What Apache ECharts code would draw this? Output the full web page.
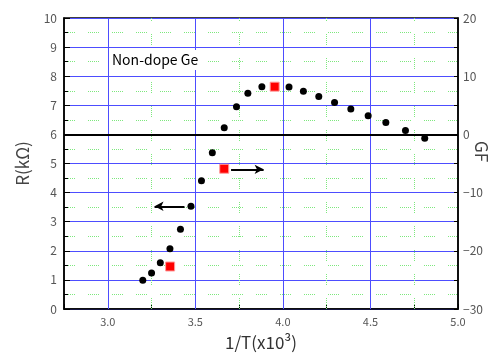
<!DOCTYPE html>
<html><head><meta charset="utf-8">
<script src="https://cdn.jsdelivr.net/npm/echarts@6/dist/echarts.min.js"></script>
<style>html,body{margin:0;padding:0;background:#fff}#c{width:501px;height:355px}</style>
</head><body><div id="c"></div>
<script>
// 1/T (x10^3) and resistance R (kΩ) – black dots
const xDots = [3.20, 3.25, 3.30, 3.355, 3.415, 3.475, 3.535, 3.597, 3.665, 3.735, 3.80, 3.88, 4.035, 4.117, 4.205, 4.295, 4.388, 4.487, 4.588, 4.70, 4.81];
const rDots = [0.99, 1.24, 1.59, 2.07, 2.74, 3.53, 4.41, 5.37, 6.23, 6.95, 7.41, 7.64, 7.63, 7.48, 7.30, 7.10, 6.87, 6.64, 6.41, 6.13, 5.87];
// gauge factor GF – red squares (right axis)
const xSquares = [3.356, 3.665, 3.953];
const gfSquares = [-22.7, -5.9, 8.2];
// grid line positions on the x axis
const xMajorLines = [3.0, 3.5, 4.0, 4.5];
const xMinorLines = [3.25, 3.75, 4.25, 4.75];
// arrows pointing to the axis each series belongs to
const arrowR = [[3.438, 3.53], [3.267, 3.53]];
const arrowGF = [[3.704, -6.0], [3.890, -6.0]];
const zeroGFonR = 6;
const annotation = 'Non-dope Ge';

const FONT = 'Noto Sans CJK JP';
const chart = echarts.init(document.getElementById('c'), null, {renderer: 'canvas'});
const greenDash = [1,1,1,1,1,1,1,1,1,1,1,13];

const option = {
  animation: false,
  textStyle: {fontFamily: FONT},
  grid: {left: 64, right: 43, top: 18, bottom: 46, show: true, borderColor: '#000', borderWidth: 1.5,
    backgroundColor: '#fff', containLabel: false, outerBoundsMode: 'none'},
  xAxis: {
    type: 'value', min: 2.75, max: 5, interval: 0.25,
    name: '1/T(x10³)', nameLocation: 'middle', nameGap: 25,
    nameTextStyle: {fontSize: 17, color: '#333', fontFamily: FONT},
    axisLine: {lineStyle: {color: '#000', width: 1.5}},
    axisTick: {inside: true, length: 5, lineStyle: {color: '#000'}},
    axisLabel: {margin: 7, fontSize: 11, color: '#555', fontFamily: FONT,
      formatter: v => (Math.abs(v * 2 - Math.round(v * 2)) < 1e-6 && v > 2.8) ? v.toFixed(1) : ''},
    splitLine: {show: false}
  },
  yAxis: [{
    type: 'value', min: 0, max: 10, interval: 1, position: 'left',
    name: 'R(kΩ)', nameLocation: 'middle', nameGap: 33, nameRotate: 90,
    nameTextStyle: {fontSize: 17, color: '#444', fontFamily: FONT},
    axisLine: {show: true, lineStyle: {color: '#000', width: 1.5}},
    axisTick: {inside: true, length: 6, lineStyle: {color: '#000'}},
    minorTick: {show: true, splitNumber: 2, length: 4, lineStyle: {color: '#000'}},
    axisLabel: {margin: 7, fontSize: 12, color: '#555', fontFamily: FONT},
    splitLine: {show: true, lineStyle: {color: '#4d4dff', width: 1}},
    minorSplitLine: {show: true, lineStyle: {color: '#7de87d', width: 1, type: greenDash}}
  }, {
    type: 'value', min: -30, max: 20, interval: 10, position: 'right',
    name: 'GF', nameLocation: 'middle', nameGap: 15, nameRotate: -90, nameMoveOverlap: false,
    nameTextStyle: {fontSize: 17, color: '#444', fontFamily: FONT, padding: [0, 24, 0, 0]},
    axisLine: {show: true, lineStyle: {color: '#000', width: 1.5}},
    axisTick: {inside: true, length: 4, lineStyle: {color: '#000'}},
    minorTick: {show: true, splitNumber: 2, length: 4, lineStyle: {color: '#000'}},
    axisLabel: {margin: 5, fontSize: 12, color: '#555', fontFamily: FONT,
      formatter: v => v < 0 ? '\u2212' + Math.abs(v) : String(v)},
    splitLine: {show: false}
  }],
  graphic: [{
    type: 'text', left: 109, top: 50, z: 100,
    style: {text: annotation, fontSize: 14, fontFamily: FONT, fill: '#000',
      backgroundColor: '#fff', padding: [3, 3, 3, 3]}
  }],
  series: [{
    type: 'line', data: [], silent: true, z: 1,
    markLine: {
      silent: true, symbol: ['none', 'none'], label: {show: false}, animation: false,
      data: [
        ...xMinorLines.map(v => ({xAxis: v, lineStyle: {color: '#7de87d', width: 1, type: greenDash}})),
        ...xMajorLines.map(v => ({xAxis: v, lineStyle: {color: '#4d4dff', width: 1, type: 'solid'}})),
        {yAxis: zeroGFonR, lineStyle: {color: '#000', width: 2, type: 'solid'}}
      ]
    }
  }, {
    type: 'scatter', z: 5, yAxisIndex: 0,
    data: xDots.map((x, i) => [x, rDots[i]]),
    symbol: 'circle', symbolSize: 7, itemStyle: {color: '#000', opacity: 1},
    markLine: {
      silent: true, symbol: ['none', 'arrow'], symbolSize: [7, 9], label: {show: false}, animation: false,
      lineStyle: {color: '#000', width: 2, type: 'solid'},
      data: [[{coord: arrowR[0]}, {coord: arrowR[1]}]]
    }
  }, {
    type: 'scatter', z: 6, yAxisIndex: 1,
    data: xSquares.map((x, i) => [x, gfSquares[i]]),
    symbol: 'rect', symbolSize: 9,
    itemStyle: {color: '#ff0000', borderColor: '#ff9c9c', borderWidth: 1, opacity: 1},
    markLine: {
      silent: true, symbol: ['none', 'arrow'], symbolSize: [7, 9], label: {show: false}, animation: false,
      lineStyle: {color: '#000', width: 2, type: 'solid'},
      data: [[{coord: arrowGF[0]}, {coord: arrowGF[1]}]]
    }
  }]
};
chart.setOption(option);
</script>
</body></html>
